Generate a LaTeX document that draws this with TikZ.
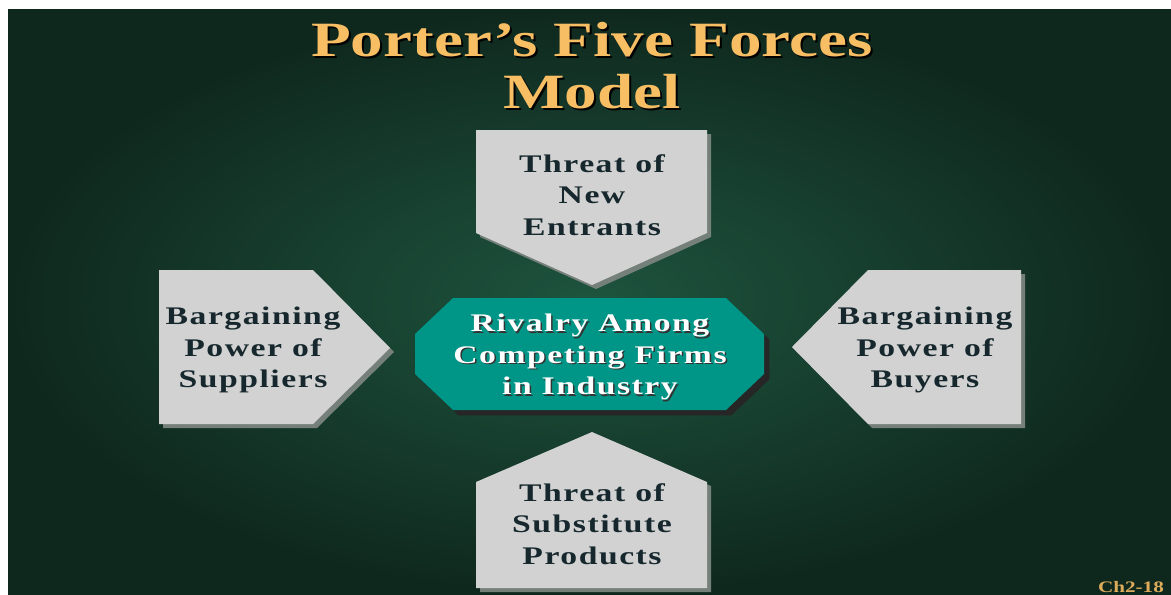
\documentclass[tikz,border=0pt]{standalone}
\usepackage{fontspec}
\setmainfont{Liberation Serif}
\newfontfamily\titlefont{Liberation Serif}[FakeStretch=1.32]
\newfontfamily\boxfont{Liberation Serif}[FakeStretch=1.33,LetterSpace=6]
\usetikzlibrary{
  shadows    % grey drop shadows under the slabs
}
\definecolor{bg-in}{RGB}{30,84,62}
\definecolor{bg-out}{RGB}{15,40,30}
\definecolor{slab}{RGB}{210,210,210}
\definecolor{slab-shade}{RGB}{118,128,122}
\definecolor{slab-text}{RGB}{22,40,45}
\definecolor{rivalry}{RGB}{0,150,135}
\definecolor{heading}{RGB}{247,190,100}
\tikzset{
  force/.style = {
    fill = slab,
    drop shadow = {shadow xshift=3pt, shadow yshift=-3pt, fill=slab-shade, opacity=1}
  },
  rival/.style = {
    fill = rivalry,
    drop shadow = {shadow xshift=4pt, shadow yshift=-4pt, fill=black!85, opacity=1}
  },
  forcetext/.style = {
    font = \boxfont\bfseries\fontsize{19}{23.6}\selectfont,
    text = slab-text, align = center, inner sep = 0pt
  },
  rivaltext/.style = {forcetext, text = white},
  titletext/.style = {
    font = \titlefont\bfseries\fontsize{37}{39}\selectfont,
    text = heading, align = center, inner sep = 0pt
  }
}

\begin{document}
\begin{tikzpicture}[x=0.75pt, y=-0.75pt]  % one unit = one pixel, y running down
\fill[white] (0,0) rectangle (1171,594);
\shade[inner color=bg-in, outer color=bg-out] (8,9) rectangle (1171,594);

% title with its dark shadow
\node[titletext, text=black] (title-sh) at (594,68) {Porter’s Five Forces\\Model};
\node[titletext] (title) at (592,66) {Porter’s Five Forces\\Model};

% the four outer forces
\path[force] (476,130) -- (707,130) -- (707,233) -- (592,285) -- (476,233) -- cycle;
\path[force] (159,270) -- (313,270) -- (390,348) -- (313,424) -- (159,424) -- cycle;
\path[force] (1021,270) -- (868,270) -- (792,347) -- (868,424) -- (1021,424) -- cycle;
\path[force] (592,432) -- (707,482) -- (707,588) -- (476,588) -- (476,482) -- cycle;

\node[forcetext] (entrants) at (592,195) {Threat of\\New\\Entrants};
\node[forcetext] (suppliers) at (253,350) {Bargaining\\Power of\\Suppliers};
\node[forcetext] (buyers) at (925,350) {Bargaining\\Power of\\Buyers};
\node[forcetext] (substitutes) at (592,524) {Threat of\\Substitute\\Products};

% rivalry in the middle
\path[rival] (453,298) -- (726,298) -- (764,334) -- (764,374) -- (726,410)
  -- (453,410) -- (415,374) -- (415,334) -- cycle;
\node[rivaltext, text=black!80] (rivalry-sh) at (591.5,358.5) {Rivalry Among\\Competing Firms\\in Industry};
\node[rivaltext] (rivalry) at (590,357) {Rivalry Among\\Competing Firms\\in Industry};

\node[font=\titlefont\bfseries\fontsize{12}{14}\selectfont, text=heading!90!black,
  inner sep=0pt] (page) at (1131,587) {Ch2-18};
\end{tikzpicture}
\end{document}
